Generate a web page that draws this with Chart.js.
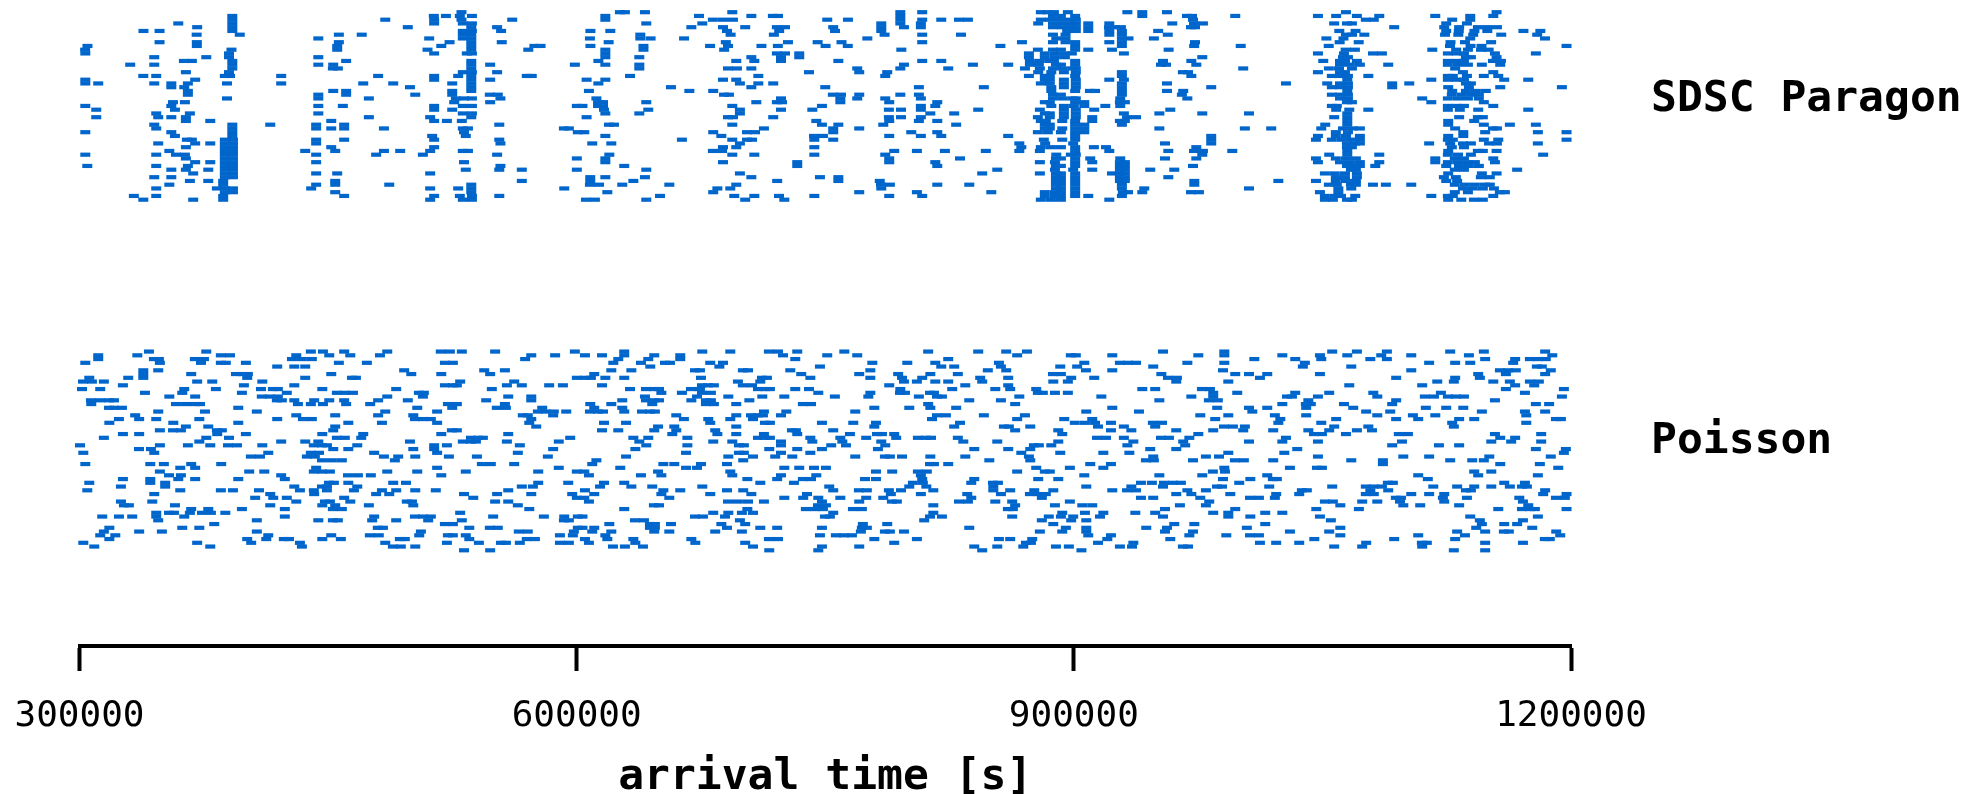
<!DOCTYPE html>
<html>
<head>
<meta charset="utf-8">
<style>
  html, body { margin: 0; padding: 0; background: #fff; }
  canvas { display: block; }
</style>
<script src="https://cdn.jsdelivr.net/npm/chart.js@4/dist/chart.umd.min.js"></script>
</head>
<body>
<canvas id="chart" width="1984" height="794"></canvas>
<script>
// arrival times in thousands of seconds, one list per row of the raster, top row first
const sdscRows = [
  [530.5, 626.1, 629.1, 641.2, 693.9, 795.3, 808.5, 880.1, 884.1, 888, 896.4, 932.3, 941.3, 956.2, 1064.2, 1155.1],
  [392.2, 513.8, 521.1, 529.5, 536.8, 617.3, 673.8, 705.4, 718.4, 721.5, 795.3, 887.4, 892.2, 900.8, 941.3, 968.3, 971.3, 997.4, 1047.3, 1058.3, 1070.8, 1084.3, 1118.1, 1139.2, 1153.1],
  [392.2, 484.5, 514, 530.5, 561.1, 617.3, 682.2, 688.3, 694.3, 751.2, 763.7, 795.3, 808.5, 820, 830.7, 836.1, 880.1, 885.5, 891, 896.4, 901.2, 971.9, 1076.2, 1081, 1128.3, 1139.2],
  [359.6, 392.2, 514, 531.3, 536.8, 642, 675.8, 783.8, 795.3, 807.7, 878.5, 887.4, 892.8, 898.2, 901.2, 908.7, 921.4, 959.4, 972.5, 977.9, 1057.1, 1064.8, 1067.8, 1124.7, 1137.2],
  [371, 392.2, 498.1, 536.4, 552, 669.2, 688.3, 701.7, 720.8, 725.7, 754.8, 783.8, 797.5, 807.7, 887.4, 892.8, 898.2, 901.2, 908.7, 921.2, 924.8, 928.4, 970.7, 973.1, 1093.3, 1123.5, 1132.5, 1143.8, 1149.4, 1155.3],
  [338.6, 348.3, 392.2, 531.3, 536.8, 554.4, 608.3, 620.3, 690.7, 722.2, 755.9, 783.8, 896, 901.2, 908.7, 921.4, 929, 950.9, 1060.2, 1070, 1124.7, 1132.3, 1141.7, 1149.5, 1171.3, 1181.5],
  [370.7, 396.7, 456.5, 470.3, 531.3, 536.4, 638.4, 692.9, 719, 785.8, 808.5, 831.9, 887.4, 895, 921.4, 929, 956.7, 1064.2, 1067.9, 1075.3, 1124, 1132, 1141, 1157.9, 1179.6],
  [444.1, 511, 531.3, 536.4, 608, 638.4, 644.6, 664.8, 775.4, 889.4, 895, 929, 933, 948.3, 1052.4, 1062.7, 1139.2, 1184.3],
  [348.3, 370.8, 456.5, 523.3, 536.4, 554.8, 619.3, 690, 727.5, 745.4, 759.8, 808.5, 868.7, 887.4, 895, 900.8, 921.4, 929, 973.1, 1060.4, 1071.9, 1127.3, 1136, 1151.8],
  [304.8, 370.8, 455.5, 518.3, 536.4, 574.5, 578.2, 608.3, 640.3, 680.5, 691.3, 711.5, 721.4, 750.2, 763.6, 855.7, 900.8, 929, 972.6, 1000.7, 1053.8, 1127, 1139.4, 1146, 1197.3],
  [303.4, 391.7, 455.5, 510, 536.4, 570.8, 617.3, 640.3, 689, 795.9, 878.3, 887.4, 892.2, 900.8, 908.7, 923, 957.2, 1064, 1069.6, 1116.3, 1130.7, 1137.8, 1145.7, 1150.3],
  [303.5, 390.2, 514, 533.7, 536.8, 617.3, 720.8, 725.7, 734.3, 872.9, 882.5, 888.6, 894.6, 898.8, 930.2, 1047.3, 1063, 1080.5, 1085.9, 1125.7, 1131, 1135.4, 1154.1, 1178.8],
  [345.1, 376.5, 390.2, 444.1, 617.3, 637.8, 705.4, 723.3, 734.3, 872.9, 882.5, 888.6, 894.6, 977.5, 1062.4, 1065.4, 1136.6, 1139.6, 1155.1],
  [363, 367.8, 392.2, 460.9, 536.4, 613.1, 696.3, 707.2, 723.3, 757.9, 808.5, 820, 873.5, 879.5, 885.5, 888, 900.8, 953.8, 970.9, 1050.5, 1060.6, 1063.6, 1070.8, 1125.7, 1131, 1135.4, 1152.9, 1157.7],
  [330.6, 345.1, 392.2, 444.1, 453.1, 536.4, 547.8, 598.9, 617.3, 637.8, 797.5, 839.1, 860.4, 873.5, 878.9, 889.2, 892.2, 900.8, 952.6, 955.6, 973.9, 1060.6, 1066.6, 1072.6, 1089.7, 1125.7, 1131.8, 1137.8, 1146.2, 1157.3],
  [392.2, 452.9, 455.9, 536.4, 637.8, 691.3, 696.7, 705.4, 769.3, 795.3, 824.2, 870.5, 879.5, 887.4, 893.4, 899.4, 901.2, 1002.2, 1053.9, 1060, 1067.8, 1130.1],
  [364.2, 390.2, 531.3, 536.8, 552, 740.2, 770.5, 787.4, 878.5, 886.4, 894, 901.2, 929, 965.8, 968.9, 1047.3, 1060.6, 1063.6, 1134.8, 1153.1],
  [338.5, 346.3, 387.7, 390.8, 421.7, 480.2, 514, 528.5, 536.4, 569.9, 572.9, 632.2, 709.6, 786.2, 872.9, 882.5, 885.5, 900.8, 929, 970.9, 1055.7, 1060.6, 1065.4, 1077.7, 1125.7, 1128.7, 1137.2, 1147.4, 1156.1],
  [303.5, 369.8, 514, 536.4, 547.8, 606, 617.3, 688.3, 696.3, 882.5, 885.5, 894, 901.2, 921.4, 930.2, 1065, 1115.7, 1125.7, 1131, 1135.4, 1159.7, 1174.2],
  [303.5, 311.3, 345.1, 355.4, 365.4, 389, 421.7, 471.2, 489.3, 524.9, 536.4, 613.1, 698.5, 709.6, 718.6, 880.1, 885.5, 894, 901.2, 929, 956.2, 1028, 1052.9, 1060.6, 1065.4, 1092.1, 1102.4, 1136.6, 1139.6],
  [355.4, 363.2, 499.4, 536.4, 656.9, 705.4, 750, 806.5, 845.7, 886.4, 894, 901.2, 929, 982.9, 1055.7, 1060.6, 1065.4, 1092.1, 1125.9, 1138.4, 1157.3, 1194.5],
  [365.4, 453.1, 460.9, 524.9, 536.4, 607.4, 668, 682.4, 886.4, 900.8, 909.7, 912.8, 929, 956.2, 966, 1065, 1128.3, 1136.6, 1142.6, 1148.6],
  [365.4, 444.1, 460.9, 502.6, 524.9, 547.6, 552.4, 688.9, 691.9, 754.6, 759.5, 770.5, 795.3, 806.5, 887.4, 892.2, 929, 965.2, 1055.7, 1060.6, 1065.4, 1128.1, 1134.2, 1140.2, 1144.4],
  [389, 444.1, 474.6, 527.1, 532, 536.8, 554, 611.9, 723.3, 759.1, 769.3, 786.2, 807.7, 887.4, 893.4, 899.4, 901.2, 928, 968.5, 1060.6, 1065.4, 1110.2, 1125.7, 1131.8, 1137.8, 1144.4],
  [356.4, 363.6, 526.1, 547.8, 612.9, 615.9, 642, 708.4, 720.8, 723.9, 759.1, 788.6, 817.6, 882.5, 885.5, 900.8, 906.3, 927.8, 930.8, 1064.8, 1067.8, 1115.7, 1147.4],
  [303.5, 355.4, 444.1, 458.9, 514, 531.3, 536.8, 600.1, 603.5, 612.9, 615.9, 693.9, 748, 807.7, 816.4, 886.4, 894, 900, 906.3, 919, 928, 1055.7, 1058.7, 1125.7, 1131, 1135.4, 1153.1],
  [310.1, 357.6, 514, 524.9, 616.5, 643.2, 698.5, 723.3, 742.2, 788.4, 795.7, 807.7, 842.3, 879.5, 894, 901.2, 912.3, 958.2, 1058.3, 1066.2, 1077.7, 1125.7, 1132.9, 1144, 1174.2],
  [346.3, 366.6, 444.1, 531.3, 536.8, 617.3, 637.8, 698.5, 813.4, 827.8, 882.5, 885.5, 894, 901.2, 930.2, 951.6, 977.5, 1005.7, 1065],
  [310.1, 347.5, 355.4, 364.2, 474.6, 511.6, 536.4, 606, 691.3, 694.3, 718.6, 788.4, 795.7, 807.7, 878.3, 885.5, 894, 901.2, 911.1, 932.1, 937.5, 1057.1, 1065, 1132.5, 1143.8, 1146.8],
  [364.2, 378.9, 451.9, 514, 521.7, 530.7, 744.6, 788.6, 806.5, 817.6, 880.1, 883.1, 893, 900.8, 911.1, 927.8, 930.8, 1065, 1125.9, 1141.6],
  [345.1, 392.2, 415.1, 442.8, 459.7, 553.3, 619.5, 622.5, 693.9, 748, 757.9, 785, 829, 882.5, 885.5, 900.8, 906.3, 929, 1051.7, 1065, 1125.9, 1147.4, 1163.1, 1178.8],
  [346.3, 392.2, 442.8, 451.9, 459.7, 483.7, 531.3, 534.4, 592.3, 595.3, 713, 754.8, 770.5, 882.5, 885.5, 893, 900.8, 906.3, 951.6, 1003.2, 1019.1, 1049.3, 1062.4, 1068.4, 1072.6, 1130.1, 1152.9, 1155.3],
  [303.5, 355.4, 392.2, 532, 600.7, 604.6, 682.4, 702.8, 707.6, 754.8, 801.9, 817.6, 878.3, 884.3, 892.2, 900.8, 906.3, 1058.1, 1065.4, 1135, 1148.2, 1180, 1197.3],
  [357.6, 392.2, 512.8, 533.1, 617.3, 687.3, 743.2, 748.6, 788.6, 807.7, 820, 860.4, 900.8, 982.9, 1047.3, 1058.1, 1064.2, 1072.6, 1125.9, 1135],
  [364.8, 367.8, 387.7, 392.6, 442.8, 459.7, 514, 553.3, 663.5, 693.9, 702.8, 705.8, 743.4, 754.8, 881.9, 893, 900.8, 982.9, 1046.1, 1055.7, 1061.8, 1067.8, 1072.6, 1125.7, 1128.7, 1147.4, 1156.1, 1197.3],
  [347.5, 369.8, 378.9, 387.7, 392.6, 442.8, 554, 609.4, 620.9, 698.5, 867.1, 882.7, 899.6, 955, 982.9, 1064.8, 1069.6, 1072.6, 1114.4, 1127.1, 1134.8, 1139.6, 1150.5, 1155.3, 1180],
  [364.2, 387.7, 392.6, 451.9, 514, 688.3, 696.3, 743.4, 868.3, 880.1, 886.2, 892.2, 900.8, 912.1, 919.4, 973.9, 1064.8, 1067.8, 1128.1, 1135.4],
  [354.2, 387.7, 392.6, 436.2, 454.3, 483.7, 493.5, 511.6, 531.3, 534.4, 682.2, 687.7, 791.6, 805.3, 822.2, 846.9, 867.1, 879.5, 900.8, 921.4, 957, 972.5, 977.9, 995.6, 1065, 1125.9, 1143.8, 1146.8, 1155.1],
  [303.5, 346.3, 358.2, 363.6, 387.7, 392.6, 442.8, 479, 507.2, 552, 619.7, 693.9, 707.2, 743.4, 786.2, 889.4, 898.2, 901.2, 977.5, 1054.1, 1065, 1084.3, 1125.7, 1131.8, 1139.6, 1183.2],
  [364.2, 387.7, 392.6, 600.1, 617.3, 788.6, 831.3, 889.2, 892.2, 900.8, 909.9, 928, 955, 973.9, 1046.1, 1058.1, 1064.2, 1070.2, 1118.1, 1129.9, 1135.4, 1153.1],
  [369.8, 378.9, 387.7, 392.6, 442.8, 532, 617.3, 688.3, 733.1, 788.6, 816.4, 879.5, 888.6, 900.8, 911.1, 927.8, 930.8, 1047.3, 1060.6, 1066.6, 1072.6, 1084.3, 1118.1, 1125.7, 1131.8, 1137.8, 1142, 1154.1],
  [304.7, 346.3, 365.4, 387.7, 392.6, 554, 628.7, 733.1, 817.6, 889.2, 892.2, 900.8, 927.8, 930.8, 971.9, 1064.8, 1069.6, 1072.6, 1081.9, 1124.7, 1132.4, 1138.4, 1144.4],
  [355.4, 364.2, 377.7, 387.7, 392.6, 533.1, 553.3, 566.9, 600.1, 642, 853.8, 888.6, 899.6, 911.1, 927.8, 930.8, 946.1, 960.6, 1067.2, 1070.2, 1129.9, 1135.4, 1167.5],
  [368.6, 387.7, 392.6, 442.8, 455.5, 511.6, 698.5, 844.7, 879.5, 889.2, 892.2, 900.8, 923, 927.8, 930.8, 1051.5, 1057.5, 1063.6, 1070.8, 1125.9, 1146.2, 1155.1],
  [345.1, 355.4, 387.7, 392.6, 608.2, 617.3, 641.2, 705.4, 746.8, 757.9, 889.2, 892.2, 900.8, 927.8, 930.8, 957, 1058.1, 1063.6, 1070.8, 1123.3, 1130.5, 1145.6, 1151],
  [366.6, 377.7, 386.7, 454.3, 566.9, 608.2, 634.2, 721, 757.9, 782.9, 889.2, 892.2, 900.8, 927.8, 930.8, 972.7, 1023.4, 1046.1, 1058.1, 1064.2, 1070.2, 1124.7, 1131.3],
  [354.2, 386.7, 442.8, 454.3, 486.9, 536.4, 608, 613.5, 627.5, 655.9, 696.3, 783.6, 789, 817.6, 836.9, 889.2, 892.2, 900.8, 929, 972.7, 1053.9, 1058.7, 1067.2, 1070.2, 1080.5, 1088.3, 1103.6, 1129.9, 1136, 1142, 1148, 1151],
  [346.3, 382.9, 387.7, 392.6, 439.8, 511.6, 528.5, 536.4, 592.5, 684.9, 692.7, 783.8, 889.2, 892.2, 900.8, 929, 942.5, 1005.7, 1059.6, 1067.4, 1134.8, 1140.8, 1146.8, 1153.5],
  [387.7, 392.6, 454.3, 536.4, 618.5, 682.4, 770.5, 805.3, 850.2, 882.5, 888.6, 892.2, 900.8, 929.6, 932.7, 941.3, 970.7, 975.5, 1048.5, 1059.6, 1129.9, 1137.8, 1157.1, 1160.1],
  [332.8, 346.3, 386.7, 459.7, 514, 529.5, 536.8, 553.3, 650.3, 695.1, 707.2, 722.1, 743.4, 788.6, 808.5, 882.5, 888.6, 892.2, 900.8, 908.7, 929, 1051.5, 1057.5, 1061.2, 1069.8, 1115.7, 1125.7, 1128.7, 1153.1],
  [338.5, 368.6, 386.7, 511.6, 531.3, 536.8, 605.6, 611, 642, 701.7, 725.3, 880.1, 886.2, 892.2, 921.4, 1051.5, 1056.3, 1064.8, 1067.8, 1125.9, 1133.8, 1141.4, 1146.8],
];
const poissonRows = [
  [341.9, 376.5, 439.6, 446.9, 459.7, 485.7, 518, 523.5, 530.7, 550.8, 598.9, 628.7, 675.8, 692.7, 716, 721.5, 733.1, 761.5, 812.1, 842.3, 859.2, 871.7, 953.8, 990.8, 1055.9, 1070.8, 1088.9, 1127.1, 1147.4, 1184.4],
  [311.3, 334.9, 385.3, 390.8, 430.8, 450.7, 463.4, 481.3, 572.6, 587, 605, 615.3, 628.7, 646.8, 662.5, 724.5, 751.2, 769.3, 865.8, 898.2, 901.2, 923.2, 975.1, 990.8, 1025.8, 1048.5, 1065, 1085.5, 1103.6, 1138.4, 1188.7],
  [311.3, 344.9, 347.9, 369.6, 375.1, 428.2, 434.2, 440.2, 568.9, 625.1, 643.2, 662.5, 731.9, 824.2, 1008.9, 1033.6, 1049.3, 1078.9, 1088.9, 1148.2, 1166.3, 1175.2, 1180, 1184.8],
  [303.5, 348.5, 373.3, 385.3, 388.3, 400.4, 456.5, 473.4, 520.5, 525.3, 622.1, 638.8, 653.3, 656.3, 680.6, 688.3, 778.4, 799.5, 816.4, 854.8, 906.3, 927.8, 932.7, 937.5, 968.5, 990.8, 1039.4, 1114.4, 1130.1, 1139.2, 1165.1],
  [419.3, 429.6, 436.2, 644.4, 686.1, 746.8, 820, 827.8, 856, 891.8, 902, 947.9, 1038.2, 1067.4, 1179.4, 1182.4],
  [338.5, 347.5, 495.9, 544.2, 556.7, 620.9, 633, 671.4, 674.4, 700.3, 703.4, 728.9, 777.2, 848.1, 859.2, 907.3, 923.2, 990, 1103.6, 1157.1, 1161.9, 1166.7, 1187.8],
  [338.5, 367.4, 394.4, 398.6, 401.6, 451.9, 500.2, 518.3, 547.8, 610.6, 735.5, 770.5, 794, 813.4, 830, 887.4, 892.2, 952.8, 997.4, 1005.7, 1016.7, 1048.5, 1144, 1160.7, 1184.4],
  [305.9, 329.4, 338.5, 401.2, 436.2, 464.4, 466.8, 600.1, 605, 608.6, 617.3, 628.7, 675, 711.8, 714.8, 741, 777.2, 796.3, 808.5, 843.5, 860.4, 898.4, 912.3, 956.8, 962.2, 1012.3, 1094.5, 1130.1, 1145],
  [302.1, 307.5, 314.7, 371, 380.1, 410.3, 529.7, 562.3, 697.3, 710.8, 797.5, 805.3, 816.4, 824.2, 844.7, 887.6, 896.4, 961.8, 993.2, 1119.3, 1129.3, 1153.1, 1163.1, 1175.2, 1180.6],
  [326.2, 399.2, 429.6, 520.5, 525.3, 527.7, 557.9, 566.9, 583.4, 591.7, 615.3, 675.6, 679.2, 682.8, 700.3, 705.8, 788.6, 834.5, 860.4, 1066.2, 1110.2, 1166.3, 1177.8],
  [301.5, 312.5, 363.2, 382.3, 409.5, 416.7, 419.7, 446.5, 491.1, 548.8, 632.2, 641.8, 646.6, 649.7, 669, 674.4, 709.4, 713.6, 716.6, 731.9, 740.2, 795.3, 826.6, 852.6, 861.6, 877.3, 941.3, 949.1, 977.3, 982.1, 1160.7, 1195.7],
  [339.5, 362, 398, 425.1, 455.3, 460.1, 465, 504.8, 507.8, 651.1, 663.5, 675.6, 681, 745.8, 777.2, 795.1, 798.1, 813.2, 815.6, 878.3, 881.3, 888.6, 896.4, 984.1, 998.6, 1033.6, 1054.1, 1080.7, 1121.5, 1172.2],
  [354.2, 369.8, 410, 414.9, 419.7, 485.7, 507.2, 558.7, 572.6, 641.2, 672.6, 691.5, 712, 725.3, 755.8, 776, 806.5, 817.4, 820.4, 867.1, 916.6, 970.9, 984.1, 1028.6, 1031.6, 1047.3, 1083.1, 1111.8, 1117.3, 1125.7, 1130.5, 1135.4, 1194.5],
  [306.9, 312.3, 317.8, 320.8, 419.1, 422.1, 429.6, 441.6, 450.7, 459.7, 480.2, 498.1, 545.4, 572.6, 627.5, 641.8, 646.6, 649.7, 669.2, 678, 681, 704.2, 836.9, 856, 951.6, 981.5, 986.9, 1041.5, 1094.5, 1154.1],
  [307.1, 358.2, 364.2, 369.6, 372.7, 431.8, 439.6, 446.9, 460.9, 475.4, 522.3, 527.7, 556.7, 608.2, 620.9, 645.6, 678, 682.8, 696.3, 736.5, 741.4, 812.1, 864.6, 1025.8, 1040, 1043, 1063, 1092.1, 1178.8, 1186.8],
  [317.8, 320.8, 325.6, 395.8, 503.8, 524.9, 551.8, 557.3, 579.2, 610.6, 627.5, 779.6, 800.7, 813.4, 829, 923.2, 986.5, 1005.7, 1016.7, 1040.2, 1068.6, 1112.4, 1124.7, 1135],
  [347.5, 375.7, 407, 484.5, 515.8, 576.6, 581.4, 586.2, 593.7, 608, 612.9, 615.9, 628.7, 639.4, 644.2, 647.2, 713, 726.5, 768.1, 907.5, 939.3, 1007.7, 1076.4, 1090.9, 1146.2, 1172.2, 1184.4],
  [333.6, 430.8, 454.3, 480.2, 501.4, 567.5, 570.5, 585.8, 660.1, 696.3, 705.2, 709.4, 712.4, 723.3, 817.4, 822.8, 845.7, 870.5, 976.3, 993.2, 1021.3, 1040.2, 1083.1, 1104.6, 1118.1, 1173],
  [323.8, 336, 346.3, 372.3, 419.3, 434.8, 440.2, 502.4, 507.2, 512, 572.6, 664.7, 679.4, 692.7, 706.4, 814.4, 865.8, 894.2, 911.1, 985.3, 1024.6, 1058.3, 1094.5, 1107.8, 1132.5, 1141.6, 1190.9, 1193.9],
  [318, 356.6, 395.8, 462.2, 482.5, 515.8, 571.4, 616.5, 629.8, 680.6, 713.6, 716.6, 748, 766.9, 780.6, 831.3, 900.6, 906.7, 912.8, 922.4, 947.7, 953.2, 1023.4, 1049.3, 1128.3, 1173],
  [364.2, 377.7, 454.3, 575.6, 649.1, 658.9, 696.3, 779.6, 827.8, 857.8, 860.8, 873.7, 914.6, 930.2, 949.1, 990.6, 996, 1003.2, 1057.1, 1077.7, 1129.3],
  [348.5, 356.4, 361.2, 382.9, 385.9, 453.1, 524.7, 527.7, 615.3, 625.1, 646.8, 660.1, 683.6, 729.9, 732.3, 754.8, 864.6, 890.6, 922.4, 934.7, 961.8, 984.1, 1002.2, 1020.3, 1041.5, 1054.1, 1070.8, 1079.9],
  [326.2, 336, 383.1, 400.4, 446.5, 471.2, 518.3, 558.7, 657.7, 684.9, 696.3, 713, 733.1, 764.9, 781.2, 784.2, 791.6, 893, 975.1, 1044.9, 1049.7, 1064.2, 1096.1, 1101.6, 1154.1, 1182],
  [314.7, 376.5, 390.2, 455.3, 460.1, 470, 536.2, 540.4, 543.4, 596.1, 634.2, 643.2, 666.8, 709.4, 713.6, 716.6, 741, 759.1, 774.7, 792.8, 805.9, 810.7, 813.8, 830, 914, 919.4, 930.2, 952.6, 957.4, 969.7, 1028, 1157.3, 1166.3],
  [372.3, 421.7, 436.2, 444.1, 499.4, 531.3, 536.2, 539.2, 557.9, 589.2, 637.8, 682.4, 693.9, 723.3, 742.2, 760.3, 783.8, 833.3, 853.8, 890.6, 935.9, 966, 1005.7, 1025.8, 1047.3, 1098, 1151.9, 1163.9, 1182],
  [300.3, 348.5, 365.4, 378.9, 389.6, 395, 410.3, 441.4, 446.3, 449.3, 467.6, 514, 521.7, 565.7, 642, 666.8, 697.9, 700.9, 723.3, 753.6, 762.5, 786.2, 875.9, 878.9, 886.4, 932.3, 967.2, 1092.1, 1120.3, 1132.5],
  [335.9, 343.1, 453.1, 462.2, 501.4, 514, 585.8, 635.4, 716.2, 733.1, 748, 781.8, 839.9, 860.4, 873.7, 946.1, 961.8, 1034.8, 1178.8, 1196.9],
  [302.3, 345.1, 413.9, 439.6, 444.5, 477.8, 515.8, 564.5, 666, 697.9, 700.9, 723.3, 741, 868.3, 891.8, 917.8, 933.5, 993.2, 1027, 1195.7],
  [403.4, 408.9, 437.2, 442, 483.7, 492.3, 502.6, 522.9, 539.8, 582.6, 629.8, 691.5, 706.4, 719.8, 730.1, 768.1, 786, 789, 796.3, 813.4, 834.5, 872.9, 947.9, 979.7, 987.6, 1047.3, 1098.8, 1114.4, 1150.7, 1187.8],
  [446.3, 452.3, 458.3, 490.3, 611.9, 700.5, 849, 873.7, 943.5, 948.3, 971.9, 997.2, 1002.6, 1020.3, 1067.4, 1086.5, 1127.1, 1140.4, 1147.4],
  [303.5, 342.7, 350.9, 367.4, 385.5, 542.8, 548.2, 562.3, 609.4, 652.3, 658.9, 675, 690.7, 813.2, 815.6, 824.2, 909.9, 922.4, 1086.5, 1157.3, 1181.2],
  [360.8, 369.8, 442.8, 515.8, 589.2, 626.3, 666, 672.6, 725.3, 734.3, 743.2, 750.4, 877.3, 897.6, 917.8, 990.8, 1030.4, 1046.7, 1049.7, 1192.3],
  [348.5, 402.4, 411.5, 441.4, 446.3, 451.1, 485.7, 503.8, 533.1, 576.8, 600.1, 604.6, 649.1, 692.7, 780.6, 790.4, 805.9, 811.3, 865.8, 882.5, 885.5, 983.9, 991.2, 1141.6, 1151.9],
  [354, 361.2, 421.7, 462, 468, 475.8, 518.3, 607.4, 638.8, 651.1, 693.9, 723.3, 744.6, 807.7, 906.3, 951.6, 977.5, 1016.7, 1107.8, 1144, 1180],
  [326.2, 342.7, 359.6, 369.8, 395.8, 423.9, 703, 721, 736.5, 741.4, 774, 780.6, 808.5, 839.9, 878.5, 890.6, 990, 1006.5, 1020.1, 1022.5, 1113.6],
  [305.9, 342.7, 351.7, 450.5, 453.5, 462.2, 489.3, 497, 576.8, 594.9, 616.5, 628.7, 710.8, 731.1, 802.9, 808.9, 838.1, 851.2, 854.2, 940.5, 947.1, 954.4, 959.8, 964.6, 999.8, 1089.5, 1092.5, 1159.7, 1172.2],
  [325, 351.7, 429.6, 446.3, 449.3, 467.6, 566.9, 573.6, 614.1, 633, 645.6, 675.8, 752.4, 800.7, 811, 851.4, 907.5, 934.7, 953.8, 986.4, 989.4, 1017.9, 1055.9, 1076.2, 1081, 1085.9, 1116.9, 1131.3, 1141.6, 1151.9, 1163.1, 1170.4, 1173.4],
  [304.7, 360.8, 385.3, 392.6, 408.3, 433, 441.4, 449.3, 465.6, 482.5, 491.1, 502.6, 515, 558.7, 605, 652.3, 662.5, 690.7, 700.5, 754.8, 770.3, 775.1, 788.4, 795.7, 815.2, 851.4, 861.6, 876.1, 887.6, 923.2, 932.1, 937.5, 968.5, 979.7, 1037.6, 1040.6, 1078.9, 1089.7, 1136.6, 1139.6, 1184.4],
  [345.1, 415.1, 441.6, 479, 486.9, 532, 552, 572.6, 597.3, 610.6, 651.1, 680.6, 705.4, 739, 789.6, 807.7, 835.7, 856, 873.5, 878.3, 883.1, 961.8, 970.9, 994.4, 1022.1, 1036, 1076.2, 1081, 1103.6, 1114.4, 1123.5, 1183.2, 1197.3],
  [406, 416.9, 425.1, 459.7, 537.6, 600.1, 604.6, 655.9, 725.3, 736.7, 745.8, 759.1, 774.7, 785, 838.1, 880.7, 940.5, 947.9, 976.3, 1006.3, 1011.7, 1021.3, 1094.3, 1097.4, 1122.7, 1137.2, 1168.8, 1190.9, 1196.3],
  [325, 343.9, 430.8, 448.1, 451.1, 463.4, 497.5, 500.6, 550.8, 558.7, 607.4, 691.3, 697.3, 703.4, 713, 748, 770.5, 790.2, 793.2, 830.7, 836.1, 852.6, 862.8, 897.6, 981.7, 1051.5, 1056.3, 1074, 1083.1, 1096.8, 1123.5, 1171],
  [326.8, 329.8, 357.6, 415.1, 446.5, 454.3, 474.6, 501.4, 564.5, 646.6, 649.7, 745.6, 750.4, 815.2, 864.6, 888.6, 905.1, 911.1, 964, 979.7, 1060.8, 1098.8, 1109, 1132.5, 1174.2],
  [367.4, 377.7, 398, 423.9, 452.9, 458.3, 571.4, 628.7, 703, 738.3, 743.8, 748.6, 766.7, 772.1, 860.2, 863.2, 955, 997.4, 1046.3, 1072, 1156.1, 1170.4, 1175.2, 1178.2, 1197.3],
  [346.3, 354, 357, 366.6, 373.9, 379.3, 388, 529.7, 682.4, 691.5, 699.7, 706.4, 754.8, 815.2, 893, 906.7, 917.8, 937.1, 949.1, 984.1, 993.2, 1015.5, 1025.8],
  [313.7, 323.8, 331.8, 346.3, 363.2, 423.9, 477.8, 502.4, 507.2, 512, 549.6, 580.2, 592.5, 600.7, 603.5, 671.4, 676.2, 689.5, 749.8, 752.8, 813.2, 820.4, 862.8, 884.9, 892.2, 899.6, 915.8, 953.8, 993.2, 1006.5, 1048.5, 1139.2, 1180],
  [347.5, 407, 444.1, 452.9, 455.9, 476.6, 491.1, 510.4, 530.7, 592.3, 595.3, 635.2, 640.6, 698.5, 809.7, 880.7, 898.4, 907.5, 1055.1, 1145, 1171],
  [381.3, 520.5, 525.3, 619.7, 644.2, 647.2, 656.9, 687.3, 701.7, 772.7, 787.4, 887.6, 960.6, 972.7, 1015.5, 1146.2, 1159.7, 1167.5],
  [318, 362, 372.3, 480, 483.1, 535.2, 547.6, 552.4, 600.7, 603.5, 610.6, 644.2, 647.2, 690.7, 710.8, 721, 748, 772.1, 775.1, 836.9, 895.2, 907.5, 943.7, 956.2, 1004.4, 1060.8, 1142.8, 1176.6],
  [314.7, 336, 349.7, 407, 506, 565.1, 570.5, 598.3, 609.4, 620.9, 646.8, 655.9, 683.6, 699.7, 771.5, 786, 789, 797.5, 879.5, 893, 907.5, 955, 971.9, 1030.4, 1054.1, 1131.3, 1148.2, 1159.5, 1162.5, 1191.1],
  [312.5, 321.6, 413.9, 451.9, 475.2, 480.6, 505, 522.3, 525.3, 533.1, 589.9, 597.7, 617.3, 746.8, 756.4, 761.3, 766.1, 908.7, 922.4, 969.7, 992, 1006.3, 1011.7, 1060.8, 1107.8, 1136, 1193.5],
  [318, 401.2, 412.7, 423.3, 426.4, 446.5, 457.7, 493.3, 496.3, 535.2, 569.9, 574.8, 605, 618.5, 634.2, 669.2, 716, 721.5, 779.6, 805.3, 854.8, 861.6, 874.9, 920.2, 958.2, 1045.1, 1093.3, 1130.1, 1184.2, 1187.2],
  [302.3, 371, 403.6, 433, 484.5, 521.7, 541, 554.3, 557.3, 565.7, 589.9, 595.3, 607.4, 635.4, 671.6, 701.7, 791.6, 871.1, 874.1, 914.6, 935.9, 1012.3, 1022.1, 1036, 1076.4, 1110, 1113, 1148.2, 1171],
  [308.9, 378.9, 434.2, 489.1, 493.9, 502.6, 621.9, 629.1, 640, 706.4, 748, 770.5, 839.9, 853.8, 869.5, 889.2, 897, 927.8, 935.1, 965.8, 968.9, 1057.1, 1074, 1110.2],
  [532, 547.8, 716.2, 745.8, 844.7, 904.6, 1129.3, 1148.2],
];
const rowStarts = [0, 90.5];
const seriesNames = ['SDSC Paragon', 'Poisson'];
const labelRows = [23.3, 114.7];
const tickValues = [300000, 600000, 900000, 1200000];
const tickLabels = ['300000', '600000', '900000', '1200000'];
const xTitle = 'arrival time [s]';

function toPoints(rows, start) {
  const points = [];
  rows.forEach((times, row) => {
    times.forEach(t => points.push({ x: t * 1000, y: start + row }));
  });
  return points;
}

function dataset(label, rows, start) {
  return {
    label: label,
    data: toPoints(rows, start),
    showLine: false,
    clip: false,
    pointStyle: 'line', // flat dash for each job
    pointRadius: 5,
    pointHoverRadius: 5,
    pointBorderWidth: 4.2,
    pointBorderColor: '#0066cc',
    pointBackgroundColor: '#0066cc'
  };
}

new Chart(document.getElementById('chart').getContext('2d'), {
  type: 'scatter',
  data: {
    datasets: [
      dataset(seriesNames[0], sdscRows, rowStarts[0]),
      dataset(seriesNames[1], poissonRows, rowStarts[1])
    ]
  },
  options: {
    responsive: false,
    animation: false,
    layout: { padding: { left: 79.5, right: 0, top: 0, bottom: 0 } },
    plugins: { legend: { display: false }, tooltip: { enabled: false } },
    scales: {
      x: {
        type: 'linear',
        min: 300000,
        max: 1200000,
        afterBuildTicks: axis => { axis.ticks = tickValues.map(v => ({ value: v })); },
        afterFit: axis => { axis.height = 148; },
        border: { display: true, color: '#000', width: 4 },
        grid: { drawOnChartArea: false, drawTicks: true, tickLength: 25, tickWidth: 4, tickColor: '#000' },
        ticks: {
          autoSkip: false,
          maxRotation: 0,
          padding: 10,
          color: '#000',
          font: { family: '"DejaVu Sans Mono"', size: 36, lineHeight: 2 },
          callback: value => tickLabels[tickValues.indexOf(value)]
        },
        title: {
          display: true,
          text: xTitle,
          color: '#000',
          padding: { top: 0, bottom: -5.5 },
          font: { family: '"DejaVu Sans Mono"', size: 43, weight: 'bold', lineHeight: 1 }
        }
      },
      y: {
        type: 'linear',
        position: 'right',
        reverse: true,
        min: -0.8,
        max: 169.02,
        afterBuildTicks: axis => { axis.ticks = labelRows.map(v => ({ value: v })); },
        afterFit: axis => { axis.width = 413; },
        border: { display: false },
        grid: { drawOnChartArea: false, drawTicks: true, tickLength: 80, tickColor: 'transparent' },
        ticks: {
          autoSkip: false,
          padding: 0,
          color: '#000',
          font: { family: '"DejaVu Sans Mono"', size: 43, weight: 'bold', lineHeight: 0.01 },
          callback: value => seriesNames[labelRows.indexOf(value)]
        }
      }
    }
  }
});
</script>
</body>
</html>
